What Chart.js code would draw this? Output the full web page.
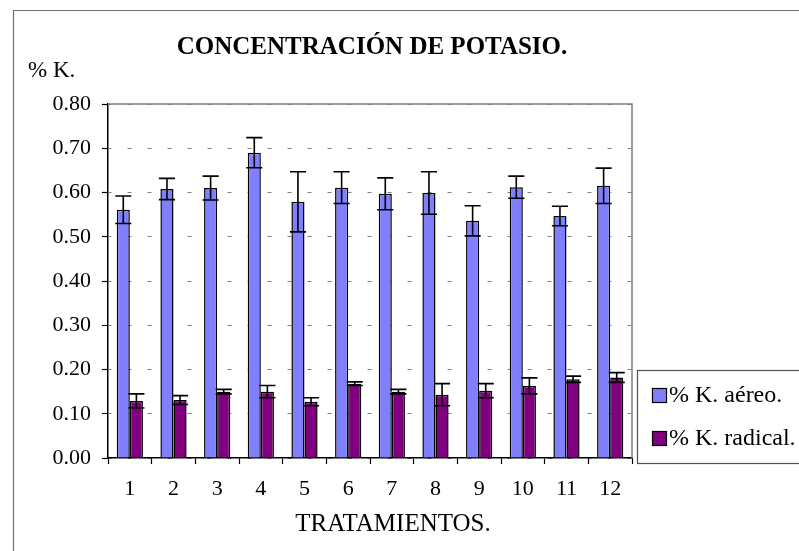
<!DOCTYPE html>
<html>
<head>
<meta charset="utf-8">
<script src="https://cdn.jsdelivr.net/npm/chart.js@4/dist/chart.umd.min.js"></script>
<style>
  html, body { margin: 0; padding: 0; background: #ffffff; }
  #wrap { width: 799px; height: 551px; }
</style>
</head>
<body>
<div id="wrap"><canvas id="c" width="799" height="551"></canvas></div>
<script>
// ---- data ----
const categories = ['1', '2', '3', '4', '5', '6', '7', '8', '9', '10', '11', '12'];
const aereo      = [0.561, 0.608, 0.610, 0.690, 0.579, 0.611, 0.597, 0.599, 0.536, 0.612, 0.547, 0.615];
const aereoErr   = [0.031, 0.024, 0.027, 0.034, 0.068, 0.036, 0.036, 0.048, 0.034, 0.025, 0.022, 0.040];
const radical    = [0.129, 0.131, 0.150, 0.150, 0.127, 0.168, 0.150, 0.143, 0.152, 0.163, 0.178, 0.182];
const radicalErr = [0.016, 0.010, 0.005, 0.014, 0.009, 0.004, 0.005, 0.025, 0.016, 0.018, 0.007, 0.011];
const seriesLabels = ['% K. aéreo.', '% K. radical.'];
const seriesColors = ['#8080FF', '#800080'];
const chartTitle = 'CONCENTRACIÓN DE POTASIO.';
const yAxisLabel = '% K.';
const xAxisLabel = 'TRATAMIENTOS.';
const errors = [aereoErr, radicalErr];

const FONT = "'Liberation Serif', 'Times New Roman', serif";

const errorBarPlugin = {
  id: 'errorBars',
  afterDatasetsDraw(chart) {
    const ctx = chart.ctx;
    const yScale = chart.scales.y;
    ctx.save();
    ctx.strokeStyle = '#000000';
    ctx.lineWidth = 1.6;
    chart.data.datasets.forEach((ds, d) => {
      const meta = chart.getDatasetMeta(d);
      meta.data.forEach((el, i) => {
        const v = ds.data[i];
        const e = errors[d][i];
        const yt = yScale.getPixelForValue(v + e);
        const yb = yScale.getPixelForValue(v - e);
        const half = el.width / 2 + 1.5;
        ctx.beginPath();
        ctx.moveTo(el.x, yt);
        ctx.lineTo(el.x, yb);
        ctx.moveTo(el.x - half, yt);
        ctx.lineTo(el.x + half, yt);
        ctx.moveTo(el.x - half, yb);
        ctx.lineTo(el.x + half, yb);
        ctx.stroke();
      });
    });
    ctx.restore();
  }
};

const framePlugin = {
  id: 'frame',
  beforeDraw(chart) {
    const ctx = chart.ctx;
    ctx.save();
    ctx.fillStyle = '#ffffff';
    ctx.fillRect(0, 0, chart.width, chart.height);
    ctx.restore();
  },
  afterDraw(chart) {
    const ctx = chart.ctx;
    const a = chart.chartArea;
    ctx.save();
    // outer chart border (top & left visible)
    ctx.strokeStyle = '#707070';
    ctx.lineWidth = 1.2;
    ctx.beginPath();
    ctx.moveTo(13.5, chart.height + 2);
    ctx.lineTo(13.5, 10.5);
    ctx.lineTo(chart.width + 2, 10.5);
    ctx.stroke();
    // plot area border top & right
    ctx.strokeStyle = '#808080';
    ctx.lineWidth = 1.5;
    ctx.beginPath();
    ctx.moveTo(a.left, a.top);
    ctx.lineTo(a.right, a.top);
    ctx.lineTo(a.right, a.bottom);
    ctx.stroke();
    // title
    ctx.fillStyle = '#000000';
    ctx.font = 'bold 25px ' + FONT;
    ctx.textAlign = 'center';
    ctx.textBaseline = 'alphabetic';
    ctx.fillText(chartTitle, 372, 54);
    // y axis label
    ctx.font = '23px ' + FONT;
    ctx.textAlign = 'left';
    ctx.fillText(yAxisLabel, 28, 77);
    // x axis title
    ctx.font = '25px ' + FONT;
    ctx.textAlign = 'center';
    ctx.fillText(xAxisLabel, 393, 531);
    // legend
    ctx.strokeStyle = '#505050';
    ctx.lineWidth = 1.2;
    ctx.strokeRect(637.5, 370.5, 200, 93);
    const rows = [395, 438];
    seriesLabels.forEach((lab, k) => {
      const cy = rows[k];
      ctx.fillStyle = seriesColors[k];
      ctx.fillRect(652, cy - 7, 14, 14);
      ctx.strokeStyle = '#000000';
      ctx.lineWidth = 1.2;
      ctx.strokeRect(652.5, cy - 6.5, 14, 14);
      ctx.fillStyle = '#000000';
      ctx.font = '24px ' + FONT;
      ctx.textAlign = 'left';
      ctx.textBaseline = 'alphabetic';
      ctx.fillText(lab, 669, cy + 7);
    });
    ctx.restore();
  }
};

new Chart(document.getElementById('c'), {
  type: 'bar',
  data: {
    labels: categories,
    datasets: [
      { label: seriesLabels[0], data: aereo, backgroundColor: seriesColors[0], borderColor: '#000000', borderWidth: 1.5 },
      { label: seriesLabels[1], data: radical, backgroundColor: seriesColors[1], borderColor: '#000000', borderWidth: 1.5 }
    ]
  },
  options: {
    responsive: false,
    animation: false,
    devicePixelRatio: 1,
    layout: { padding: { left: 0, top: 104, right: 167, bottom: 0 } },
    datasets: { bar: { categoryPercentage: 0.6, barPercentage: 1.0 } },
    plugins: {
      legend: { display: false },
      title: { display: false },
      tooltip: { enabled: false }
    },
    scales: {
      x: {
        grid: { drawOnChartArea: false, offset: true, tickLength: 6, tickColor: '#000000', color: '#000000', tickWidth: 1.2 },
        border: { display: true, color: '#000000', width: 1.5 },
        ticks: { color: '#000000', font: { family: FONT, size: 22 }, padding: 12, maxRotation: 0 },
        afterFit(s) { s.height = 93; }
      },
      y: {
        min: 0, max: 0.8,
        grid: { color: '#808080', lineWidth: 1, tickLength: 6, tickColor: '#000000', tickWidth: 1.2 },
        border: { display: true, color: '#000000', width: 1.5, dash: [4, 16], dashOffset: 1 },
        ticks: { stepSize: 0.1, color: '#000000', font: { family: FONT, size: 22 }, padding: 11,
                 callback: (v) => Number(v).toFixed(2) },
        afterFit(s) { s.width = 108; }
      }
    }
  },
  plugins: [errorBarPlugin, framePlugin]
});
</script>
</body>
</html>
